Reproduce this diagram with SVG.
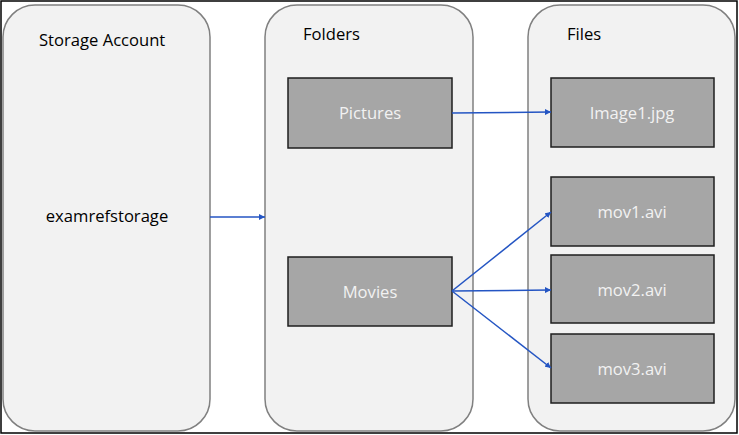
<svg xmlns="http://www.w3.org/2000/svg" width="739" height="435" viewBox="0 0 739 435">
<defs>
<style>
.panel{fill:#f2f2f2;stroke:#808080;stroke-width:1.5}
.box{fill:#a6a6a6;stroke:#1e1e1e;stroke-width:1.5}
.title{font-family:"Open Sans","Noto Sans",sans-serif;font-size:16.6px;fill:#000}
.lbl{font-family:"Open Sans","Noto Sans",sans-serif;font-size:16.6px;fill:#f2f2f2;text-anchor:middle}
.conn{stroke:#2455c3;stroke-width:1.5;fill:none;marker-end:url(#ah)}
</style>
<marker id="ah" viewBox="0 0 10 10" refX="10" refY="5" markerWidth="6" markerHeight="6" markerUnits="userSpaceOnUse" orient="auto">
<path d="M0,0 L10,5 L0,10 z" fill="#2455c3"/>
</marker>
</defs>
<rect x="1" y="1" width="736" height="432" fill="#ffffff" stroke="#000" stroke-width="1.5"/>
<g id="storage-account">
<rect class="panel" x="3" y="5" width="207" height="426" rx="32" ry="32"/>
<text class="title" x="39" y="46">Storage Account</text>
<text class="title" x="107" y="222" text-anchor="middle">examrefstorage</text>
</g>
<g id="folders">
<rect class="panel" x="265" y="5" width="208" height="426" rx="32" ry="32"/>
<text class="title" x="303" y="40">Folders</text>
</g>
<g id="files">
<rect class="panel" x="528" y="5" width="207" height="426" rx="32" ry="32"/>
<text class="title" x="567" y="40">Files</text>
</g>
<g id="pictures">
<rect class="box" x="288" y="78" width="164" height="70"/>
<text class="lbl" x="370" y="119">Pictures</text>
</g>
<g id="movies">
<rect class="box" x="288" y="257" width="164" height="69"/>
<text class="lbl" x="370" y="298">Movies</text>
</g>
<g id="image1">
<rect class="box" x="551" y="78" width="163" height="69"/>
<text class="lbl" x="632" y="119">Image1.jpg</text>
</g>
<g id="mov1">
<rect class="box" x="551" y="177" width="163" height="69"/>
<text class="lbl" x="632" y="218">mov1.avi</text>
</g>
<g id="mov2">
<rect class="box" x="551" y="255" width="163" height="68"/>
<text class="lbl" x="632" y="296">mov2.avi</text>
</g>
<g id="mov3">
<rect class="box" x="551" y="334" width="163" height="69"/>
<text class="lbl" x="632" y="375">mov3.avi</text>
</g>
<g id="connectors">
<line class="conn" x1="210" y1="217" x2="265" y2="217"/>
<line class="conn" x1="452" y1="113" x2="551" y2="112"/>
<line class="conn" x1="452" y1="291" x2="551" y2="212"/>
<line class="conn" x1="452" y1="291" x2="551" y2="290"/>
<line class="conn" x1="452" y1="291" x2="551" y2="368"/>
</g>
</svg>
